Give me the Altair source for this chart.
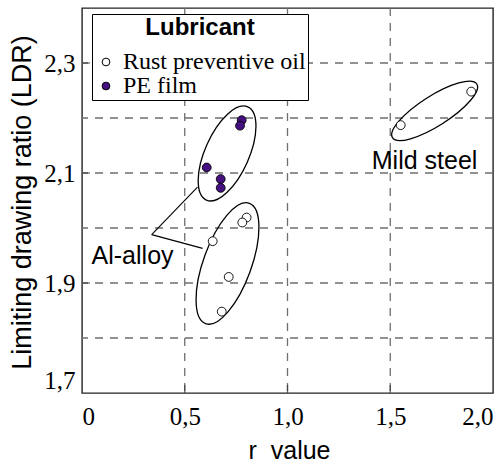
import json
import altair as alt
import pandas as pd

# ---------------- data ----------------
lubricants = ["Rust preventive oil", "PE film"]
rust_r = [0.801, 0.780, 0.636, 0.714, 0.680, 1.894, 1.551]
rust_ldr = [2.019, 2.010, 1.976, 1.911, 1.848, 2.248, 2.187]
pe_r = [0.777, 0.769, 0.607, 0.675, 0.675]
pe_ldr = [2.196, 2.186, 2.110, 2.089, 2.073]

x_tick_values = [0, 0.5, 1.0, 1.5, 2.0]
x_tick_labels = ["0", "0,5", "1,0", "1,5", "2,0"]
y_tick_values = [1.7, 1.9, 2.1, 2.3]
y_tick_labels = ["1,7", "1,9", "2,1", "2,3"]
y_grid_values = [1.8, 1.9, 2.0, 2.1, 2.2, 2.3]
x_grid_values = [0.5, 1.0, 1.5]

# annotation ellipses (centres in data units)
ell_names = ["PE", "Al", "Mild"]
ell_cx = [0.706, 0.708, 1.716]
ell_cy = [2.1355, 1.9355, 2.213]

# Al-alloy callout lines
call_x = [0.339, 0.339]
call_y = [1.988, 1.988]
call_x2 = [0.562, 0.587]
call_y2 = [2.0745, 1.963]

label_text = ["Al-alloy", "Mild steel"]
label_x = [0.246, 1.667]
label_y = [1.9345, 2.107]

# ---------------- tables ----------------
pts = pd.DataFrame({
    "x": rust_r + pe_r,
    "y": rust_ldr + pe_ldr,
    "Lubricant": [lubricants[0]] * len(rust_r) + [lubricants[1]] * len(pe_r),
})
ygrid = pd.DataFrame({"y": y_grid_values})
xgrid = pd.DataFrame({"x": x_grid_values})
xt = pd.DataFrame({"x": x_tick_values[1:-1], "y": [1.7] * 3})
yt = pd.DataFrame({"x": [0.0] * 3, "y": y_tick_values[1:]})
ell = pd.DataFrame({"name": ell_names, "x": ell_cx, "y": ell_cy})
call = pd.DataFrame({"x": call_x, "y": call_y, "x2": call_x2, "y2": call_y2})
labs = pd.DataFrame({"t": label_text, "x": label_x, "y": label_y})

SERIF = "Liberation Serif"
SANS = "Liberation Sans"

xs = alt.Scale(domain=[0, 2], nice=False, zero=False)
ys = alt.Scale(domain=[1.7, 2.4], nice=False, zero=False)

x_axis = alt.Axis(
    values=x_tick_values,
    labelExpr=f"{json.dumps(x_tick_labels)}[round(datum.value / 0.5)]",
    grid=False, ticks=False, tickSize=0, domain=False,
    labelFont=SERIF, labelFontSize=25, labelColor="black",
    labelPadding=11, labelFlush=True, labelFlushOffset=0,
    title="r\u00a0\u00a0value", titleFont=SANS, titleFontSize=25,
    titleFontWeight="normal", titleColor="black",
    titleBaseline="alphabetic", titleY=65, titleX=207,
)
y_axis = alt.Axis(
    values=y_tick_values,
    labelExpr=f"{json.dumps(y_tick_labels)}[round((datum.value - 1.7) / 0.2)]",
    grid=False, ticks=False, tickSize=0, domain=False,
    labelFont=SERIF, labelFontSize=25, labelColor="black",
    labelPadding=7, labelFlush=True, labelFlushOffset=0,
    title="Limiting drawing ratio (LDR)", titleFont=SANS, titleFontSize=27,
    titleFontWeight="normal", titleColor="black",
    titleBaseline="middle", titleAlign="center", titleX=-60, titleY=194,
)


def X(f="x"):
    return alt.X(f"{f}:Q", scale=xs, axis=x_axis)


def Y(f="y"):
    return alt.Y(f"{f}:Q", scale=ys, axis=y_axis)


grid_style = dict(strokeDash=[8, 7], color="#6e6e6e", strokeWidth=1.3)
g_h = alt.Chart(ygrid).mark_rule(**grid_style).encode(y=Y())
g_v = alt.Chart(xgrid).mark_rule(**grid_style).encode(x=X())

ticks_x = alt.Chart(xt).mark_tick(orient="vertical", size=16, thickness=1.3,
                                  color="#333333", clip=True).encode(x=X(), y=Y())
ticks_y = alt.Chart(yt).mark_tick(orient="horizontal", size=16, thickness=1.3,
                                  color="#333333", clip=True).encode(x=X(), y=Y())


def ellipse_path(r):
    k = 0.5523
    return (f"M 0 -1 C {k*r:.4f} -1 {r:.4f} {-k:.4f} {r:.4f} 0 "
            f"C {r:.4f} {k:.4f} {k*r:.4f} 1 0 1 "
            f"C {-k*r:.4f} 1 {-r:.4f} {k:.4f} {-r:.4f} 0 "
            f"C {-r:.4f} {-k:.4f} {-k*r:.4f} -1 0 -1 Z")


# (semi-major px, semi-minor px, clockwise tilt deg)
ell_style = {"PE": (51, 22, 24), "Al": (64, 24, 20), "Mild": (50, 15, 57.5)}
ell_layers = []
for nm in ell_names:
    a, b, ang = ell_style[nm]
    ell_layers.append(
        alt.Chart(ell).transform_filter(alt.datum.name == nm).mark_point(
            shape=ellipse_path(b / a), size=(2 * a) ** 2, angle=ang,
            filled=False, stroke="black", strokeWidth=1.3, opacity=1,
        ).encode(x=X(), y=Y())
    )

callout = alt.Chart(call).mark_rule(color="black", strokeWidth=1.1).encode(
    x=X(), y=Y(), x2="x2:Q", y2="y2:Q")

texts = alt.Chart(labs).mark_text(font=SANS, fontSize=25, align="center",
                                  baseline="alphabetic", color="black").encode(
    x=X(), y=Y(), text="t:N")

points = alt.Chart(pts).mark_point(filled=True, size=78, stroke="black",
                                   strokeWidth=0.9, opacity=1).encode(
    x=X(),
    y=Y(),
    fill=alt.Fill("Lubricant:N",
                  scale=alt.Scale(domain=lubricants, range=["white", "#45107f"]),
                  legend=alt.Legend(
                      orient="none", legendX=10, legendY=6,
                      title="Lubricant", titleFont=SANS, titleFontSize=24,
                      titleFontWeight="bold", titleColor="black",
                      titleAnchor="middle", titlePadding=10,
                      labelFont=SERIF, labelFontSize=24, labelColor="black",
                      labelOffset=5, labelLimit=400,
                      symbolType="circle", symbolSize=60,
                      symbolStrokeColor="black", symbolStrokeWidth=1,
                      rowPadding=-9, padding=2,
                      strokeColor="black", fillColor="white",
                  )),
    order=alt.Order("Lubricant:N"),
)

chart = alt.layer(
    g_h, g_v, *ell_layers, callout, texts, ticks_x, ticks_y, points
).properties(
    width=411, height=385,
    autosize=alt.AutoSizeParams(type="none"),
    padding={"left": 82, "top": 8, "right": 7, "bottom": 69},
    background="white",
).configure_view(stroke="#222222", strokeWidth=1.4)

chart.save("out.html", embed_options={"renderer": "svg", "actions": False})
